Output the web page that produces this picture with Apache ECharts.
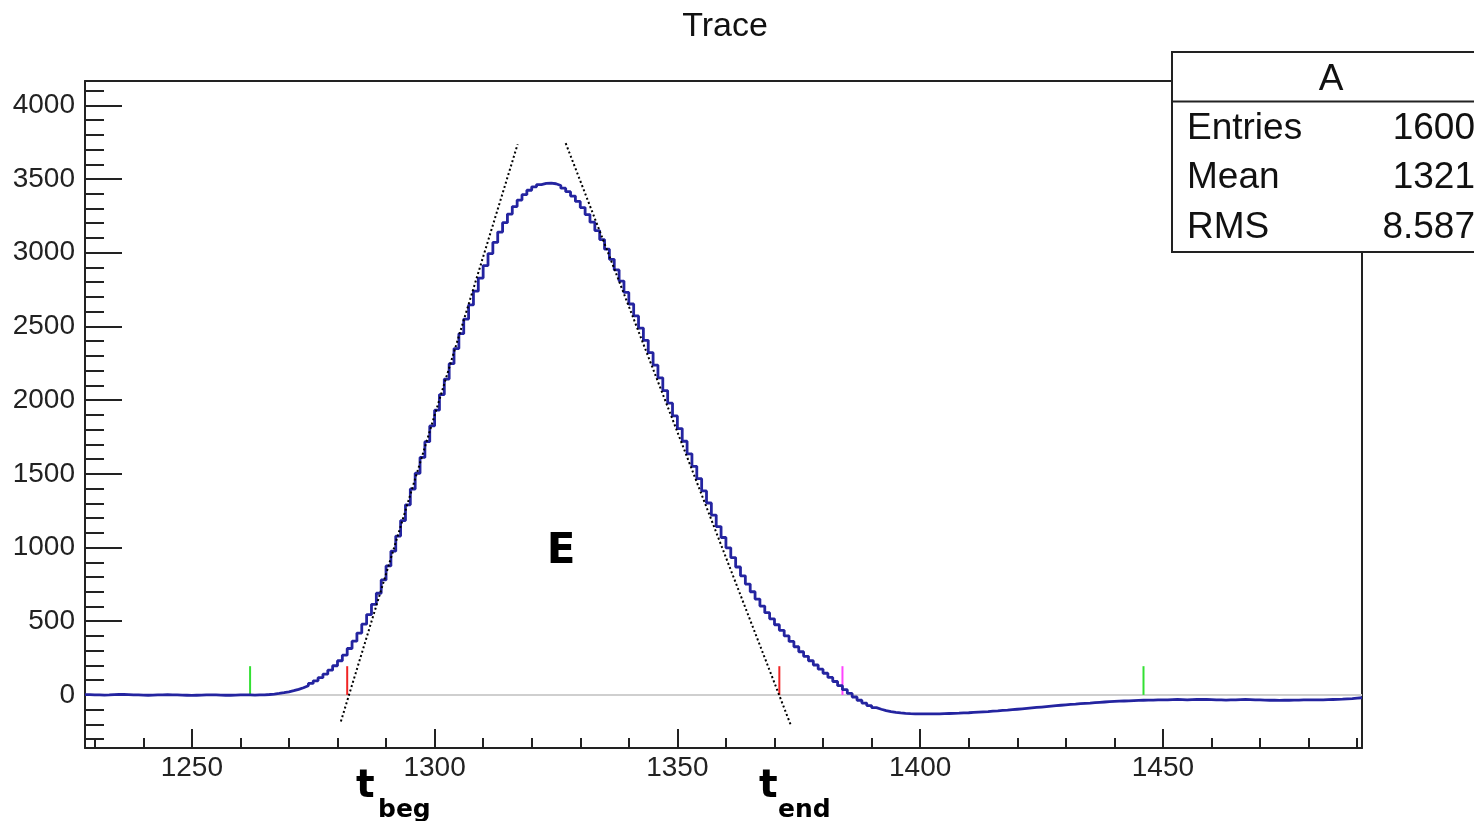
<!DOCTYPE html>
<html><head><meta charset="utf-8">
<script src="https://cdn.jsdelivr.net/npm/echarts@6/dist/echarts.min.js"></script>
<style>html,body{margin:0;padding:0;background:#fff;} #c{width:1474px;height:821px;}</style>
</head><body><div id="c"></div>
<script>
// ---- data ----
const binStart = 1228;
const preBaseline = [2, 1, 0, -1, 0, 2, 4, 3, 2, 1, 0, -1, -2, -1, 0, 1, 2, 1, 0, -1, -2, -3, -2, -1, 0, 1, 0, -1, -2, -2, -1, 0, 1, 0, -1, 0];
const risingEdge = [1, 3, 6, 10, 15, 21, 29, 38, 49, 62, 78, 96, 117, 141, 168, 198, 232, 270, 315, 365,
  420, 480, 545, 615, 690, 780, 875, 975, 1078, 1183, 1290, 1397, 1504, 1611, 1718, 1825, 1932, 2038, 2143, 2247,
  2350, 2451, 2550, 2646, 2739, 2828, 2913, 2994, 3070, 3140, 3204, 3262, 3313, 3357, 3394, 3424, 3447, 3462, 3470, 3472];
const fallingEdge = [3468, 3456, 3438, 3414, 3384, 3348, 3306, 3259, 3207, 3150, 3089, 3024, 2955, 2883, 2808, 2731,
  2652, 2571, 2489, 2406, 2322, 2237, 2151, 2065, 1979, 1893, 1807, 1721, 1636, 1551, 1467, 1384, 1302, 1220, 1142,
  1068, 998, 932, 868, 808, 752, 700, 650, 603, 558, 516, 476, 438, 400, 363, 327, 293, 262, 232, 203, 175, 147, 119,
  91, 63, 36, 10];
const undershoot = [-14, -36, -55, -72, -86, -97, -106, -113, -118, -122,
  -125, -127, -128, -129, -129, -129, -128, -128, -127, -126,
  -125, -124, -122, -121, -119, -117, -115, -113, -110, -108,
  -105, -103, -100, -97, -94, -91, -88, -85, -82, -79,
  -76, -73, -70, -67, -64, -62, -59, -57, -55, -52,
  -50, -48, -46, -44, -42, -41, -40, -38, -37, -36,
  -35, -35, -34, -33, -33];
const tailValues = [-32, -31, -32, -33, -32, -31, -30, -31, -32, -33,
  -34, -35, -34, -33, -32, -31, -32, -33, -34, -35,
  -36, -36, -37, -36, -36, -35, -35, -34, -34, -34,
  -34, -33, -32, -31, -30, -29, -27, -25, -22, -19];
const xRange = [1228, 1491];
const yRange = [-360, 4165];
const tangentBeg = [[1280.7, -180], [1317.1, 3736]];
const tangentEnd = [[1327.0, 3743], [1373.3, -200]];
const markerBins = [1262, 1282, 1371, 1384, 1446];
const markerColors = ['#33e033', '#f02424', '#f02424', '#ff44ff', '#33e033'];
const markerHeight = 195;
const titleText = 'Trace';
const statsTitle = 'A';
const statsLabels = ['Entries', 'Mean', 'RMS'];
const statsValues = ['1600', '1321', '8.587'];

// ---- build ----
const values = [].concat(preBaseline, risingEdge, fallingEdge, undershoot, tailValues);
const traceData = values.map((v, i) => [binStart + i, v]);
traceData.push([binStart + values.length, values[values.length - 1]]);
const markerData = markerBins.map((t, i) => [t, markerHeight, i]);

const AX = '#222';
const FONT = '"Liberation Sans", Arial, sans-serif';
const BOLD = '"DejaVu Sans", sans-serif';
const plain = v => String(v);

const chart = echarts.init(document.getElementById('c'), null, {renderer: 'canvas'});

const statsGraphic = [
  {type: 'rect', z: 100, shape: {x: 1172, y: 52, width: 340, height: 200},
   style: {fill: '#fff', stroke: AX, lineWidth: 2}},
  {type: 'line', z: 101, shape: {x1: 1172, y1: 101.5, x2: 1480, y2: 101.5},
   style: {stroke: AX, lineWidth: 2}},
  {type: 'text', z: 101, style: {text: statsTitle, x: 1331, y: 80, font: '37px ' + FONT,
   align: 'center', verticalAlign: 'middle', fill: '#111'}}
];
const rowY = [129, 178, 228];
statsLabels.forEach((lab, i) => {
  statsGraphic.push({type: 'text', z: 101, style: {text: lab, x: 1187, y: rowY[i], font: '37px ' + FONT,
    align: 'left', verticalAlign: 'middle', fill: '#111'}});
  statsGraphic.push({type: 'text', z: 101, style: {text: statsValues[i], x: 1475, y: rowY[i], font: '37px ' + FONT,
    align: 'right', verticalAlign: 'middle', fill: '#111'}});
});

const annot = [
  {type: 'text', z: 50, style: {text: 'E', x: 561, y: 552, font: 'bold 42px ' + BOLD, align: 'center', verticalAlign: 'middle', fill: '#000'}},
  {type: 'text', z: 50, style: {text: 't', x: 356, y: 787, font: 'bold 39px ' + BOLD, align: 'left', verticalAlign: 'middle', fill: '#000'}},
  {type: 'text', z: 50, style: {text: 'beg', x: 378, y: 810, font: 'bold 25px ' + BOLD, align: 'left', verticalAlign: 'middle', fill: '#000'}},
  {type: 'text', z: 50, style: {text: 't', x: 759, y: 787, font: 'bold 39px ' + BOLD, align: 'left', verticalAlign: 'middle', fill: '#000'}},
  {type: 'text', z: 50, style: {text: 'end', x: 778, y: 810, font: 'bold 25px ' + BOLD, align: 'left', verticalAlign: 'middle', fill: '#000'}}
];

chart.setOption({
  animation: false,
  backgroundColor: '#fff',
  title: {text: titleText, left: 720, top: 5, textAlign: 'center',
    textStyle: {fontFamily: FONT, fontSize: 34, fontWeight: 'normal', color: '#111'}},
  grid: {left: 85, top: 81, width: 1277, height: 667, containLabel: false},
  xAxis: [{
    type: 'value', min: xRange[0], max: xRange[1], splitNumber: 5,
    axisLine: {show: true, onZero: false, lineStyle: {color: AX, width: 2}},
    axisTick: {show: true, inside: true, length: 19, lineStyle: {color: AX, width: 2}},
    minorTick: {show: true, splitNumber: 5, length: 10, lineStyle: {color: AX, width: 2}},
    splitLine: {show: false},
    axisLabel: {show: true, margin: 6, fontFamily: FONT, fontSize: 28, color: '#222', formatter: plain,
      showMinLabel: false, showMaxLabel: false}
  }, {
    type: 'value', position: 'top', min: xRange[0], max: xRange[1],
    axisLine: {show: true, onZero: false, lineStyle: {color: AX, width: 2}},
    axisTick: {show: false}, axisLabel: {show: false}, splitLine: {show: false}
  }],
  yAxis: [{
    type: 'value', min: yRange[0], max: yRange[1], splitNumber: 8,
    axisLine: {show: true, onZero: false, lineStyle: {color: AX, width: 2}},
    axisTick: {show: true, inside: true, length: 37, lineStyle: {color: AX, width: 2}},
    minorTick: {show: true, splitNumber: 5, length: 19, lineStyle: {color: AX, width: 2}},
    splitLine: {show: false},
    axisLabel: {show: true, margin: 10, fontFamily: FONT, fontSize: 28, color: '#222', formatter: plain,
      showMinLabel: false, showMaxLabel: false}
  }, {
    type: 'value', position: 'right', min: yRange[0], max: yRange[1],
    axisLine: {show: true, onZero: false, lineStyle: {color: AX, width: 2}},
    axisTick: {show: false}, axisLabel: {show: false}, splitLine: {show: false}
  }],
  series: [
    {name: 'zero', type: 'line', data: [[xRange[0], 0], [xRange[1], 0]], symbol: 'none', silent: true, z: 1,
     lineStyle: {color: '#cfcfcf', width: 2}},
    {name: 'markers', type: 'custom', z: 2, silent: true, data: markerData,
     renderItem: function (params, api) {
       const t = api.value(0), h = api.value(1), ci = api.value(2);
       const p0 = api.coord([t, 0]), p1 = api.coord([t, h]);
       return {type: 'line', shape: {x1: p0[0], y1: p0[1], x2: p1[0], y2: p1[1]},
         style: {stroke: markerColors[ci], lineWidth: 2}};
     }},
    {name: 'A', type: 'line', step: 'end', data: traceData, symbol: 'none', z: 3,
     lineStyle: {color: '#2424a0', width: 2.8}},
    {name: 'tbeg', type: 'line', data: tangentBeg, symbol: 'none', z: 4,
     lineStyle: {color: '#000', width: 2, type: [2, 2.5]}},
    {name: 'tend', type: 'line', data: tangentEnd, symbol: 'none', z: 4,
     lineStyle: {color: '#000', width: 2, type: [2, 2.5]}}
  ],
  graphic: annot.concat(statsGraphic)
});
</script>
</body></html>
